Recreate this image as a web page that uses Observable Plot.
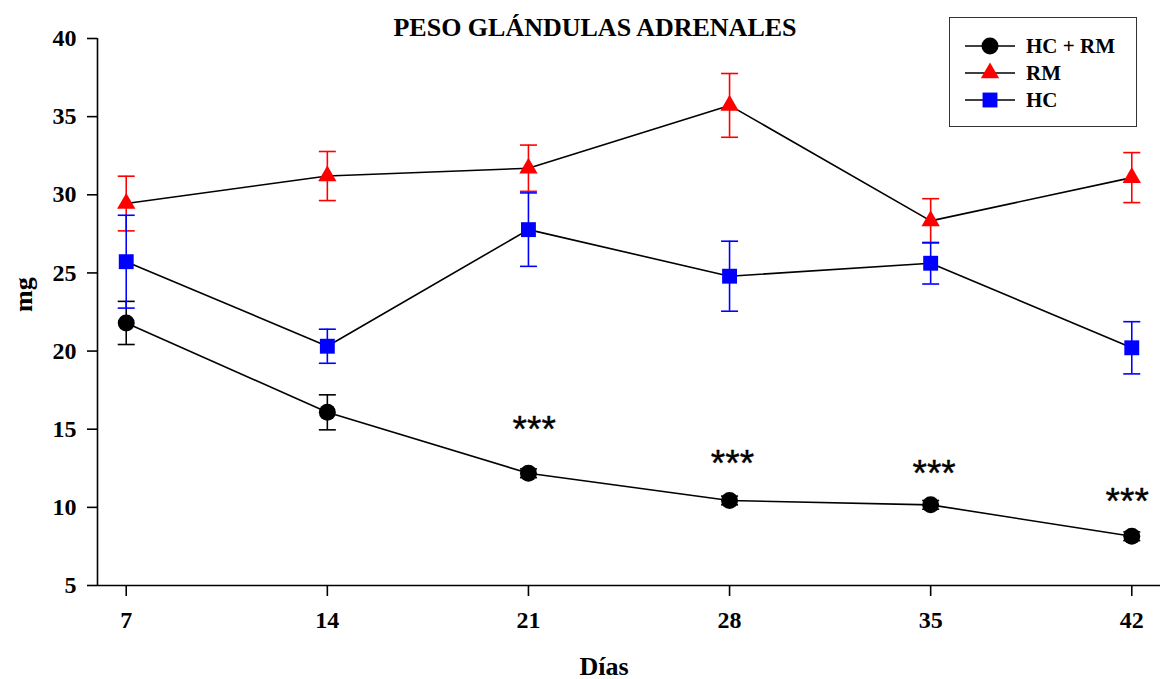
<!DOCTYPE html>
<html>
<head>
<meta charset="utf-8">
<script src="https://cdn.jsdelivr.net/npm/d3@7"></script>
<script src="https://cdn.jsdelivr.net/npm/@observablehq/plot@0.6"></script>
<style>
  html, body { margin: 0; padding: 0; background: #fff; }
  #wrap { position: relative; width: 1160px; height: 679px; font-family: "Liberation Serif", "Times New Roman", serif; }
  #title { position: absolute; left: 0; width: 1190px; top: 13px; text-align: center; font-weight: bold; font-size: 26px; color: #000; }
  #legend { position: absolute; left: 949px; top: 17px; width: 188px; height: 110px; border: 1.5px solid #333; box-sizing: border-box; background: #fff; }
  #legend .row { position: absolute; left: 15px; height: 26px; display: flex; align-items: center; }
  #legend .row span { font-weight: bold; font-size: 21px; margin-left: 11px; color: #000; }
</style>
</head>
<body>
<div id="wrap">
  <div id="chart"></div>
  <div id="title"></div>
  <div id="legend"></div>
</div>
<script>
// ---- data ----
const days = [7, 14, 21, 28, 35, 42];
const seriesNames = ["HC + RM", "RM", "HC"];
const seriesColors = ["#000000", "#ff0000", "#0000ff"];
const seriesSymbols = ["circle", "triangle", "square"];
const hcrmMean = [21.8, 16.08, 12.18, 10.44, 10.16, 8.15];
const hcrmErr  = [1.38, 1.12, 0.28, 0.28, 0.28, 0.28];
const rmMean   = [29.44, 31.2, 31.7, 35.72, 28.33, 31.1];
const rmErr    = [1.75, 1.57, 1.48, 2.04, 1.42, 1.6];
const hcMean   = [25.72, 20.31, 27.77, 24.79, 25.62, 20.21];
const hcErr    = [2.97, 1.09, 2.35, 2.24, 1.33, 1.67];
const starDays = [21.2, 28.1, 35.12, 41.84];
const starY    = [15.4, 13.2, 12.57, 10.76];
const starText = ["***", "***", "***", "***"];
const yTicks = [5, 10, 15, 20, 25, 30, 35, 40];
const xTicks = [7, 14, 21, 28, 35, 42];
const titleText = "PESO GLÁNDULAS ADRENALES";
const xLabel = "Días";
const yLabel = "mg";

// ---- build tables ----
const means = [hcrmMean, rmMean, hcMean];
const errs = [hcrmErr, rmErr, hcErr];
const rows = [];
seriesNames.forEach((s, i) => days.forEach((d, j) => rows.push({series: s, si: i, day: d, mean: means[i][j], err: errs[i][j]})));
const stars = starDays.map((d, i) => ({day: d, y: starY[i], t: starText[i]}));

const capSymbol = { draw(ctx) { ctx.moveTo(-8.5, 0); ctx.lineTo(8.5, 0); } };
const serif = "Liberation Serif, Times New Roman, serif";

const marks = [];
[0, 1, 2].forEach(i => {
  const data = rows.filter(r => r.si === i);
  const c = seriesColors[i];
  marks.push(Plot.ruleX(data, {x: "day", y1: d => d.mean - d.err, y2: d => d.mean + d.err, stroke: c, strokeWidth: 1.6}));
  marks.push(Plot.dot(data, {x: "day", y: d => d.mean + d.err, symbol: capSymbol, stroke: c, strokeWidth: 1.6}));
  marks.push(Plot.dot(data, {x: "day", y: d => d.mean - d.err, symbol: capSymbol, stroke: c, strokeWidth: 1.6}));
});
[0, 1, 2].forEach(i => {
  const data = rows.filter(r => r.si === i);
  marks.push(Plot.line(data, {x: "day", y: "mean", stroke: "#000", strokeWidth: 1.6}));
});
const rSizes = [8.5, 6.8, 8.4];
[0, 1, 2].forEach(i => {
  const data = rows.filter(r => r.si === i);
  marks.push(Plot.dot(data, {x: "day", y: "mean", symbol: seriesSymbols[i], r: rSizes[i], fill: seriesColors[i], stroke: "none"}));
});
marks.push(Plot.text(stars, {x: "day", y: "y", text: "t", fontFamily: "Liberation Sans, Arial, sans-serif", fontSize: 37, lineAnchor: "bottom", dy: 19, fill: "#000", stroke: "#000", strokeWidth: 0.4}));

// axes
marks.push(Plot.axisY({ticks: yTicks, tickSize: 10, tickPadding: 11, label: null, fontSize: 24, fontWeight: "bold", fontFamily: serif, strokeWidth: 1.6}));
marks.push(Plot.axisX({ticks: xTicks, tickSize: 11, tickPadding: 14, label: null, fontSize: 24, fontWeight: "bold", fontFamily: serif, strokeWidth: 1.6}));
marks.push(Plot.ruleX([6], {stroke: "#000", strokeWidth: 1.6}));
marks.push(Plot.ruleY([5], {stroke: "#000", strokeWidth: 1.6}));
marks.push(Plot.text([xLabel], {frameAnchor: "bottom", dx: -25, dy: 81, lineAnchor: "middle", fontSize: 26, fontWeight: "bold", fontFamily: serif, fill: "#000"}));
marks.push(Plot.text([yLabel], {frameAnchor: "left", dx: -74, rotate: -90, lineAnchor: "middle", fontSize: 26, fontWeight: "bold", fontFamily: serif, fill: "#000"}));

const chart = Plot.plot({
  width: 1160,
  height: 679,
  marginLeft: 97,
  marginRight: 0,
  marginTop: 38,
  marginBottom: 94,
  x: {domain: [6, 43]},
  y: {domain: [5, 40]},
  style: {fontFamily: serif, background: "#fff", color: "#000", overflow: "visible"},
  marks
});
document.getElementById("chart").appendChild(chart);
document.getElementById("title").textContent = titleText;

// legend
const leg = document.getElementById("legend");
seriesNames.forEach((s, i) => {
  const row = document.createElement("div");
  row.className = "row";
  row.style.top = (15 + i * 27.2) + "px";
  const w = 50, h = 26;
  const svg = d3.create("svg").attr("width", w).attr("height", h);
  svg.append("line").attr("x1", 0).attr("x2", w).attr("y1", h / 2).attr("y2", h / 2).attr("stroke", "#000").attr("stroke-width", 1.6);
  const size = [8.5 * 8.5 * Math.PI, 6.8 * 6.8 * Math.PI, 8.4 * 8.4 * Math.PI][i];
  const sym = [d3.symbolCircle, d3.symbolTriangle, d3.symbolSquare][i];
  svg.append("path").attr("d", d3.symbol(sym, size)()).attr("transform", `translate(${w / 2},${h / 2})`).attr("fill", seriesColors[i]);
  row.appendChild(svg.node());
  const span = document.createElement("span");
  span.textContent = s;
  row.appendChild(span);
  leg.appendChild(row);
});
</script>
</body>
</html>
